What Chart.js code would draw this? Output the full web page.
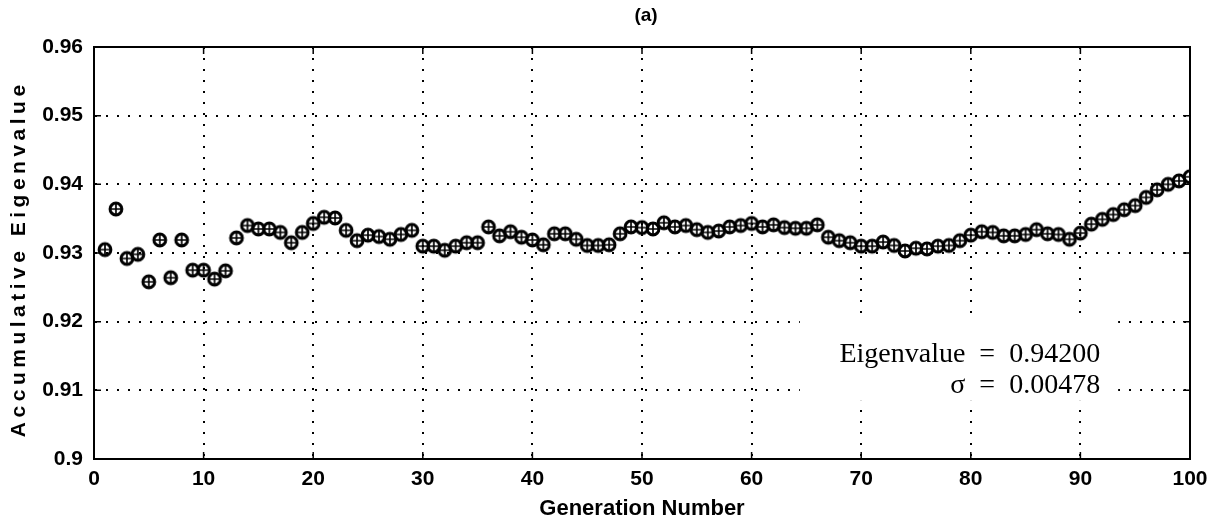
<!DOCTYPE html>
<html>
<head>
<meta charset="utf-8">
<title>Accumulative Eigenvalue (a)</title>
<script src="https://cdn.jsdelivr.net/npm/chart.js@4.4.1/dist/chart.umd.min.js"></script>
<style>
  html, body { margin: 0; padding: 0; background: #fff; }
  #wrap { width: 1218px; height: 527px; }
</style>
</head>
<body>
<div id="wrap"><canvas id="chart" width="1218" height="527"></canvas></div>
<script>
// ---- data ----
const generations = [
  1, 2, 3, 4, 5, 6, 7, 8, 9, 10,
  11, 12, 13, 14, 15, 16, 17, 18, 19, 20,
  21, 22, 23, 24, 25, 26, 27, 28, 29, 30,
  31, 32, 33, 34, 35, 36, 37, 38, 39, 40,
  41, 42, 43, 44, 45, 46, 47, 48, 49, 50,
  51, 52, 53, 54, 55, 56, 57, 58, 59, 60,
  61, 62, 63, 64, 65, 66, 67, 68, 69, 70,
  71, 72, 73, 74, 75, 76, 77, 78, 79, 80,
  81, 82, 83, 84, 85, 86, 87, 88, 89, 90,
  91, 92, 93, 94, 95, 96, 97, 98, 99, 100
];

const eigenvalues = [
  0.9305, 0.9364, 0.9292, 0.9298, 0.9258, 0.9319, 0.9264, 0.9319, 0.9275, 0.9275,
  0.9262, 0.9274, 0.9322, 0.9340, 0.9335, 0.9335, 0.9330, 0.9315, 0.9330, 0.9343,
  0.9352, 0.9351, 0.9333, 0.9318, 0.9326, 0.9324, 0.9320, 0.9327, 0.9333, 0.9310,
  0.9310, 0.9304, 0.9310, 0.9315, 0.9315, 0.9338, 0.9325, 0.9331, 0.9323, 0.9319,
  0.9312, 0.9328, 0.9328, 0.9320, 0.9311, 0.9311, 0.9312, 0.9328, 0.9338, 0.9337,
  0.9335, 0.9344, 0.9338, 0.9340, 0.9334, 0.9330, 0.9332, 0.9338, 0.9340, 0.9343,
  0.9338, 0.9341, 0.9337, 0.9336, 0.9336, 0.9341, 0.9323, 0.9318, 0.9315, 0.9310,
  0.9310, 0.9316, 0.9311, 0.9303, 0.9307, 0.9306, 0.9310, 0.9311, 0.9318, 0.9326,
  0.9331, 0.9330, 0.9325, 0.9325, 0.9327, 0.9334, 0.9328, 0.9327, 0.9320, 0.9329,
  0.9342, 0.9349, 0.9356, 0.9363, 0.9369, 0.9381, 0.9392, 0.9400, 0.9405, 0.9411
];

const xTicks = [0, 10, 20, 30, 40, 50, 60, 70, 80, 90, 100];
const xTickLabels = ['0', '10', '20', '30', '40', '50', '60', '70', '80', '90', '100'];
const yTicks = [0.90, 0.91, 0.92, 0.93, 0.94, 0.95, 0.96];
const yTickLabels = ['0.9', '0.91', '0.92', '0.93', '0.94', '0.95', '0.96'];

const chartTitle = '(a)';
const xTitle = 'Generation Number';
const yTitle = 'Accumulative Eigenvalue';
const noteLines = ['Eigenvalue\u2002=\u20020.94200', '\u03C3\u2002=\u20020.00478'];

// ---- marker: circle with a plus inside ----
function makeMarker() {
  const c = document.createElement('canvas');
  c.width = 18;
  c.height = 18;
  const g = c.getContext('2d');
  g.strokeStyle = '#000';
  g.lineWidth = 3;
  g.beginPath();
  g.arc(9, 9, 5.9, 0, Math.PI * 2);
  g.stroke();
  g.lineWidth = 1.7;
  g.beginPath();
  g.moveTo(9, 3.6); g.lineTo(9, 14.4);
  g.moveTo(3.6, 9); g.lineTo(14.4, 9);
  g.stroke();
  return c;
}

const sansFont = '"Liberation Sans", Arial, Helvetica, sans-serif';
const serifFont = '"Liberation Serif", "Times New Roman", serif';

// MATLAB style box: top/right lines + inward ticks, title, y label
const boxPlugin = {
  id: 'boxTicks',
  afterDraw(chart) {
    const { ctx, chartArea: a, scales } = chart;
    ctx.save();
    ctx.strokeStyle = '#000';
    ctx.lineWidth = 2;
    ctx.beginPath();
    ctx.moveTo(a.left, a.top); ctx.lineTo(a.right, a.top); ctx.lineTo(a.right, a.bottom);
    ctx.stroke();
    ctx.lineWidth = 1.5;
    ctx.beginPath();
    xTicks.forEach(v => {
      const x = scales.x.getPixelForValue(v);
      ctx.moveTo(x, a.bottom); ctx.lineTo(x, a.bottom - 7);
      ctx.moveTo(x, a.top); ctx.lineTo(x, a.top + 7);
    });
    yTicks.forEach(v => {
      const y = scales.y.getPixelForValue(v);
      ctx.moveTo(a.left, y); ctx.lineTo(a.left + 7, y);
      ctx.moveTo(a.right, y); ctx.lineTo(a.right - 7, y);
    });
    ctx.stroke();

    ctx.fillStyle = '#000';
    // title over the plot centre
    ctx.font = 'bold 19px ' + sansFont;
    ctx.textAlign = 'center';
    ctx.textBaseline = 'middle';
    ctx.fillText(chartTitle, (a.left + a.right) / 2 + 4, 16);

    // y axis title, letter-spaced like the scan
    ctx.font = 'bold 21px ' + sansFont;
    ctx.textAlign = 'left';
    const sp = 4.5;
    const chars = [...yTitle];
    const total = chars.reduce((s, ch) => s + ctx.measureText(ch).width, 0) + sp * (chars.length - 1);
    ctx.translate(19, (a.top + a.bottom) / 2 + 8);
    ctx.rotate(-Math.PI / 2);
    let x = -total / 2;
    chars.forEach(ch => {
      ctx.fillText(ch, x, 0);
      x += ctx.measureText(ch).width + sp;
    });
    ctx.restore();
  }
};

// annotation with white backing that hides the grid
const notePlugin = {
  id: 'note',
  beforeDatasetsDraw(chart) {
    const { ctx, scales } = chart;
    const right = scales.x.getPixelForValue(91.8);
    const left = scales.x.getPixelForValue(64.4);
    const top = scales.y.getPixelForValue(0.9207);
    const y1 = scales.y.getPixelForValue(0.9152);
    const y2 = scales.y.getPixelForValue(0.9107);
    ctx.save();
    ctx.fillStyle = '#fff';
    ctx.fillRect(left, top, right + 18 - left, 84);
    ctx.fillStyle = '#000';
    ctx.font = '28px ' + serifFont;
    ctx.textAlign = 'right';
    ctx.textBaseline = 'middle';
    ctx.fillText(noteLines[0], right, y1);
    ctx.fillText(noteLines[1], right, y2);
    ctx.restore();
  }
};

new Chart(document.getElementById('chart'), {
  type: 'scatter',
  data: {
    datasets: [{
      data: generations.map((g, i) => ({ x: g, y: eigenvalues[i] })),
      pointStyle: makeMarker(),
      pointRadius: 7,
      showLine: false
    }]
  },
  options: {
    responsive: false,
    animation: false,
    devicePixelRatio: 1,
    layout: { padding: { left: 0, right: 28, top: 47, bottom: 0 } },
    plugins: {
      legend: { display: false },
      tooltip: { enabled: false },
      title: { display: false }
    },
    scales: {
      x: {
        type: 'linear',
        min: 0,
        max: 100,
        afterBuildTicks: s => { s.ticks = xTicks.map(v => ({ value: v })); },
        afterFit: s => { s.height = 68; },
        ticks: {
          color: '#000',
          font: { family: sansFont, size: 21, weight: 'bold' },
          padding: 8,
          maxRotation: 0,
          callback: (v, i) => xTickLabels[i]
        },
        grid: { color: '#000', lineWidth: 2, drawTicks: false },
        border: { display: true, color: '#000', width: 2, dash: [2, 9] },
        title: {
          display: true,
          text: xTitle,
          color: '#000',
          font: { family: sansFont, size: 22, weight: 'bold' },
          padding: { top: 0, bottom: 5 }
        }
      },
      y: {
        min: 0.9,
        max: 0.96,
        afterBuildTicks: s => { s.ticks = yTicks.map(v => ({ value: v })); },
        afterFit: s => { s.width = 94; },
        ticks: {
          color: '#000',
          font: { family: sansFont, size: 21, weight: 'bold' },
          padding: 11,
          callback: (v, i) => yTickLabels[i]
        },
        grid: { color: '#000', lineWidth: 2, drawTicks: false },
        border: { display: true, color: '#000', width: 2, dash: [2, 9] },
        title: { display: false }
      }
    }
  },
  plugins: [notePlugin, boxPlugin]
});
</script>
</body>
</html>
